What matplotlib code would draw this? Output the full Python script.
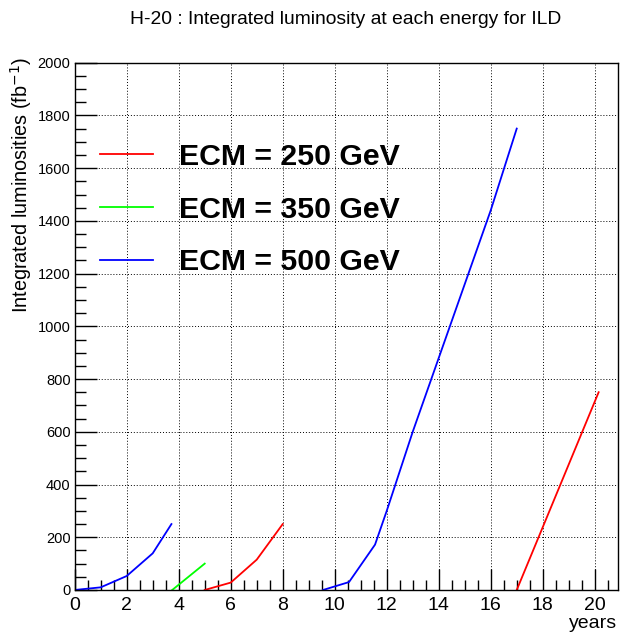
import matplotlib
matplotlib.use("Agg")
from matplotlib import pyplot as plt
from matplotlib.ticker import MultipleLocator

# integrated luminosity (fb^-1) versus years, one list pair per running period
e250_years_a = [5.0, 6.0, 7.0, 8.0]
e250_lumi_a = [0, 28, 115, 250]
e250_years_b = [17.0, 20.15]
e250_lumi_b = [0, 750]

e350_years = [3.75, 5.0]
e350_lumi = [0, 100]

e500_years_a = [0.0, 1.0, 2.0, 3.0, 3.72]
e500_lumi_a = [0, 10, 53, 139, 250]
e500_years_b = [9.55, 10.55, 11.55, 12.0, 13.0, 14.0, 15.0, 16.0, 17.0]
e500_lumi_b = [0, 30, 172, 300, 600, 880, 1160, 1440, 1750]

labels = ["ECM = 250 GeV", "ECM = 350 GeV", "ECM = 500 GeV"]
x_ticks = list(range(0, 21, 2))


def run():
    plt.rcParams["font.family"] = ["Liberation Sans", "DejaVu Sans"]
    fig = plt.figure(figsize=(6.2, 6.35), dpi=100, facecolor="white")
    ax = fig.add_axes([0.1205, 0.0709, 0.8765, 0.8304])

    lw = 1.3
    (l250,) = ax.plot(e250_years_a, e250_lumi_a, color="#ff0000", lw=lw)
    ax.plot(e250_years_b, e250_lumi_b, color="#ff0000", lw=lw)
    (l350,) = ax.plot(e350_years, e350_lumi, color="#00ff00", lw=lw)
    (l500,) = ax.plot(e500_years_a, e500_lumi_a, color="#0000ff", lw=lw)
    ax.plot(e500_years_b, e500_lumi_b, color="#0000ff", lw=lw)

    ax.set_xlim(0, 20.9)
    ax.set_ylim(0, 2000)
    ax.set_xticks(x_ticks)
    ax.xaxis.set_minor_locator(MultipleLocator(0.5))
    ax.yaxis.set_major_locator(MultipleLocator(200))
    ax.yaxis.set_minor_locator(MultipleLocator(50))

    ax.tick_params(axis="x", which="major", direction="in", length=15,
                   width=1, labelsize=14, pad=5)
    ax.tick_params(axis="x", which="minor", direction="in", length=7, width=1)
    ax.tick_params(axis="y", which="major", direction="in", length=16,
                   width=1, labelsize=10.5, pad=3)
    ax.tick_params(axis="y", which="minor", direction="in", length=8, width=1)

    ax.grid(True, which="major", color="black", lw=0.7, ls=(0, (1, 2)))
    for sp in ax.spines.values():
        sp.set_linewidth(1)
        sp.set_color("black")

    ax.legend(
        [l250, l350, l500],
        labels,
        loc="upper left",
        bbox_to_anchor=(0.0466, 0.848),
        frameon=False,
        borderpad=0,
        borderaxespad=0,
        handlelength=1.74,
        handletextpad=0.88,
        labelspacing=0.815,
        prop=dict(size=21.8, weight="bold"),
    )

    fig.text(346 / 620, 1 - 19 / 635,
             "H-20 : Integrated luminosity at each energy for ILD",
             ha="center", va="center", size=13.9)
    fig.text(21 / 620, 1 - 57 / 635, r"Integrated luminosities (fb$^{-1}$)",
             rotation=90, ha="center", va="top", size=14.3)
    fig.text(617 / 620, 1 - 623 / 635, "years", ha="right", va="center",
             size=14)

    fig.savefig("out.png", dpi=100, facecolor="white")


run()
